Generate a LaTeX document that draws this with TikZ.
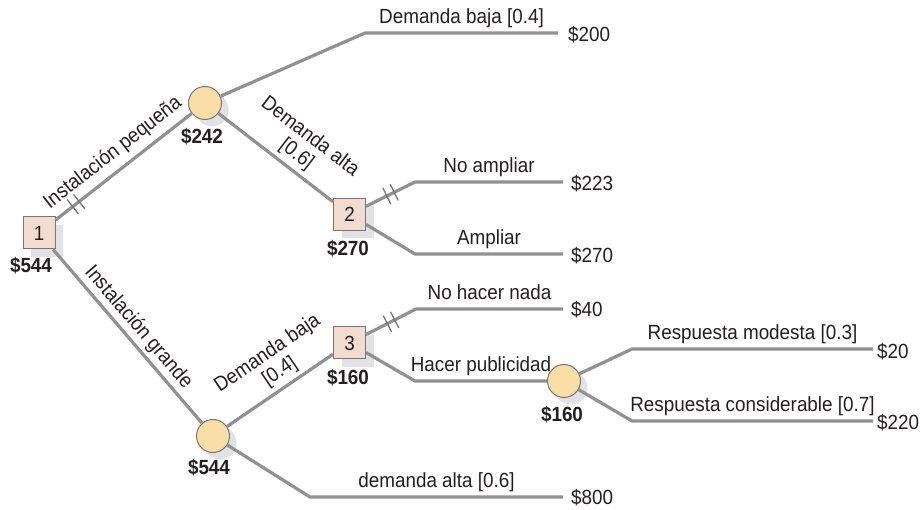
\documentclass[tikz,border=0pt]{standalone}
\usepackage{fontspec}
\setmainfont{Liberation Sans}[FakeStretch=0.92]
\usetikzlibrary{shadows,calc}
\definecolor{linec}{RGB}{145,145,145}
\definecolor{sqfill}{RGB}{242,220,210}
\definecolor{cfill}{RGB}{249,222,168}
\definecolor{bord}{RGB}{125,115,110}
\definecolor{shad}{RGB}{226,226,230}
\definecolor{txt}{RGB}{35,31,32}
\begin{document}
\begin{tikzpicture}[x=1pt,y=-1pt,
  every node/.style={font=\fontsize{20.5}{22}\selectfont, text=txt},
  decision/.style={draw=bord, fill=sqfill, line width=1pt, minimum size=32pt, inner sep=0,
    drop shadow={shadow xshift=8pt, shadow yshift=-8pt, fill=shad, opacity=1}},
  chance/.style={circle, draw=bord, fill=cfill, line width=1pt, minimum size=33pt, inner sep=0,
    drop shadow={shadow xshift=7pt, shadow yshift=-7pt, fill=shad, opacity=1}},
  val/.style={anchor=west, inner sep=0},
  ev/.style={font=\bfseries\fontsize{20.5}{22}\selectfont, inner sep=0},
  branch/.style={draw=linec, line width=3.2pt, line join=round},
  blab/.style={midway, above=8pt, inner sep=0, text depth=0pt},
  slab/.style={sloped, above, inner sep=6pt, align=center},
  brk/.style={sloped, minimum width=5pt, minimum height=15pt, inner sep=0},
  brkline/.style={draw=linec!80!black, line width=1.3pt}
]
\useasboundingbox (0,0) rectangle (921,510);

% decision and chance nodes
\node[decision] (n1) at (39,233) {1};
\node[chance]   (c1) at (205,103) {};
\node[decision] (n2) at (349.5,214.5) {2};
\node[decision] (n3) at (349.5,343) {3};
\node[chance]   (c2) at (213,436) {};
\node[chance]   (c3) at (564,381) {};

% expected values
\node[ev] (e1) at (31,266) {\$544};
\node[ev] (e2) at (202,137) {\$242};
\node[ev] (e3) at (348,249) {\$270};
\node[ev] (e4) at (348,378) {\$160};
\node[ev] (e5) at (562,415) {\$160};
\node[ev] (e6) at (209,468) {\$544};

% bends and ends
\coordinate (b1) at (365,33);  \coordinate (t1) at (558,33);
\coordinate (b2) at (415,182); \coordinate (t2) at (563,182);
\coordinate (b3) at (415,254); \coordinate (t3) at (563,254);
\coordinate (b4) at (416,309); \coordinate (t4) at (563,309);
\coordinate (b5) at (415,381);
\coordinate (b6) at (632,349); \coordinate (t6) at (873,349);
\coordinate (b7) at (632,421); \coordinate (t7) at (873,421);
\coordinate (b8) at (310,497); \coordinate (t8) at (563,497);

% payoffs
\node[val] (v1) at (568,35)  {\$200};
\node[val] (v2) at (571,184) {\$223};
\node[val] (v3) at (571,256) {\$270};
\node[val] (v4) at (571,310) {\$40};
\node[val] (v6) at (877,352) {\$20};
\node[val] (v7) at (877,423) {\$220};
\node[val] (v8) at (571,498) {\$800};

% branches
\draw[branch] (n1) -- node[brk, pos=0.15] (k1) {} node[slab] {Instalación pequeña} (c1);
\draw[branch] (n1) -- node[slab, inner sep=3pt] {Instalación grande} (c2);
\draw[branch] (c1) -- (b1) -- node[blab] {Demanda baja [0.4]} (t1);
\draw[branch] (c1) -- node[slab, pos=0.6, inner sep=4pt] {Demanda alta\\{[0.6]}} (n2);
\draw[branch] (n2) -- node[brk, pos=0.5] (k2) {} (b2) -- node[blab] {No ampliar} (t2);
\draw[branch] (n2) -- (b3) -- node[blab] {Ampliar} (t3);
\draw[branch] (c2) -- node[slab, pos=0.58, inner sep=4pt] {Demanda baja\\{[0.4]}} (n3);
\draw[branch] (c2) -- (b8) -- node[blab] {demanda alta [0.6]} (t8);
\draw[branch] (n3) -- node[brk, pos=0.5] (k3) {} (b4) -- node[blab] {No hacer nada} (t4);
\draw[branch] (n3) -- (b5) -- node[blab] {Hacer publicidad} (c3);
\draw[branch] (c3) -- (b6) -- node[blab] {Respuesta modesta [0.3]} (t6);
\draw[branch] (c3) -- (b7) -- node[blab] {Respuesta considerable [0.7]} (t7);

% break marks
\foreach \k in {k1,k2,k3}{
  \draw[brkline] (\k.north west) -- (\k.south west) (\k.north east) -- (\k.south east);
}
\end{tikzpicture}
\end{document}
